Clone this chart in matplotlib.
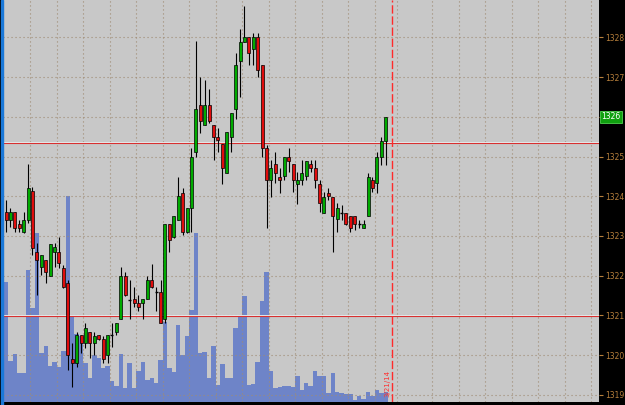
import matplotlib
matplotlib.use("Agg")
import matplotlib.pyplot as plt
import numpy as np
from matplotlib.patches import Rectangle
from matplotlib.transforms import blended_transform_factory

# ---------------- data ----------------
opens = [1323.61, 1323.40, 1323.61, 1323.29, 1323.11, 1323.40, 1324.12, 1322.60, 1322.21, 1322.40,
         1321.99, 1322.60, 1322.60, 1322.20, 1321.81, 1319.90, 1319.80, 1320.51, 1320.30, 1320.59,
         1320.30, 1320.51, 1320.40, 1320.01, 1320.51, 1320.59, 1320.90, 1321.99, 1321.39, 1321.41,
         1321.31, 1321.31, 1321.41, 1321.89, 1321.58, 1321.58, 1320.90, 1323.29, 1322.98, 1323.40,
         1324.09, 1323.11, 1323.70, 1325.11, 1326.30, 1325.79, 1326.30, 1325.79, 1325.50, 1325.31,
         1324.59, 1325.50, 1326.20, 1327.40, 1327.89, 1328.00, 1327.70, 1328.00, 1327.30, 1325.21,
         1324.41, 1324.80, 1324.49, 1324.51, 1324.99, 1324.81, 1324.31, 1324.41, 1324.51, 1324.80,
         1324.70, 1324.31, 1323.59, 1324.09, 1323.99, 1323.42, 1323.59, 1323.59, 1323.49, 1323.49,
         1323.30, 1323.19, 1323.50, 1324.41, 1324.33, 1324.99, 1325.40]
highs = [1323.91, 1323.70, 1323.61, 1323.40, 1323.61, 1324.81, 1324.24, 1322.82, 1322.52, 1322.40,
         1322.80, 1322.82, 1322.98, 1322.27, 1321.89, 1320.30, 1320.59, 1320.51, 1320.80, 1320.59,
         1320.59, 1320.51, 1320.48, 1320.51, 1320.82, 1320.82, 1322.23, 1322.10, 1321.89, 1321.72,
         1321.52, 1321.41, 1321.99, 1322.30, 1321.72, 1321.89, 1323.29, 1323.29, 1323.49, 1324.49,
         1324.20, 1323.70, 1325.21, 1327.91, 1327.01, 1326.92, 1326.69, 1325.79, 1325.71, 1325.31,
         1325.61, 1326.10, 1327.60, 1328.20, 1328.79, 1328.00, 1328.10, 1328.10, 1327.30, 1325.29,
         1324.91, 1325.11, 1324.70, 1324.99, 1325.21, 1324.81, 1324.62, 1324.91, 1324.89, 1324.91,
         1324.91, 1324.41, 1324.11, 1324.20, 1323.99, 1323.82, 1323.78, 1323.59, 1323.49, 1323.49,
         1323.40, 1323.40, 1324.59, 1324.49, 1325.12, 1325.50, 1326.00]
lows = [1323.11, 1323.23, 1323.11, 1323.11, 1323.07, 1323.32, 1322.52, 1321.52, 1322.02, 1321.81,
        1321.98, 1322.23, 1322.19, 1321.68, 1319.63, 1319.21, 1319.71, 1320.05, 1320.18, 1319.92,
        1320.01, 1320.38, 1319.81, 1319.80, 1320.21, 1320.51, 1320.90, 1321.49, 1320.90, 1321.22,
        1321.10, 1320.90, 1321.41, 1321.68, 1321.10, 1320.80, 1320.82, 1322.60, 1322.95, 1323.40,
        1323.02, 1323.07, 1323.11, 1324.99, 1325.58, 1325.79, 1325.84, 1324.91, 1325.12, 1324.30,
        1324.59, 1325.11, 1325.94, 1326.50, 1327.89, 1327.30, 1327.30, 1327.01, 1324.99, 1323.19,
        1323.99, 1324.33, 1324.09, 1324.41, 1324.62, 1324.11, 1323.81, 1324.28, 1324.41, 1324.62,
        1324.20, 1323.61, 1323.59, 1323.91, 1322.60, 1323.11, 1323.40, 1323.28, 1323.11, 1323.15,
        1323.19, 1323.19, 1323.50, 1324.11, 1324.09, 1324.79, 1324.79]
closes = [1323.40, 1323.61, 1323.19, 1323.19, 1323.40, 1324.20, 1322.69, 1322.40, 1322.52, 1322.10,
          1322.80, 1322.72, 1322.31, 1321.72, 1320.01, 1319.80, 1320.51, 1320.30, 1320.68, 1320.30,
          1320.48, 1320.40, 1319.90, 1320.51, 1320.51, 1320.82, 1321.99, 1321.52, 1321.39, 1321.31,
          1321.21, 1321.41, 1321.89, 1321.72, 1321.58, 1320.82, 1323.29, 1322.90, 1323.49, 1324.01,
          1323.11, 1323.70, 1324.99, 1326.20, 1325.90, 1326.30, 1325.90, 1325.50, 1325.42, 1324.70,
          1325.61, 1326.10, 1327.30, 1327.89, 1328.00, 1327.60, 1328.00, 1327.19, 1325.21, 1324.41,
          1324.70, 1324.59, 1324.41, 1324.99, 1324.89, 1324.41, 1324.41, 1324.59, 1324.89, 1324.70,
          1324.41, 1323.82, 1323.99, 1324.01, 1323.50, 1323.70, 1323.59, 1323.30, 1323.19, 1323.30,
          1323.30, 1323.30, 1324.49, 1324.20, 1324.99, 1325.40, 1326.00]
volumes = [120, 41, 48, 29, 29, 132, 94, 169, 49, 56,
           36, 40, 35, 51, 206, 85, 68, 66, 39, 24,
           47, 44, 34, 36, 21, 16, 48, 14, 39, 14,
           31, 40, 22, 24, 19, 42, 80, 34, 30, 77,
           47, 66, 92, 169, 49, 50, 24, 56, 17, 38,
           24, 24, 74, 87, 106, 17, 18, 40, 101, 130,
           31, 14, 15, 16, 16, 15, 26, 12, 19, 16,
           31, 26, 26, 9, 29, 10, 9, 8, 8, 2,
           6, 3, 10, 6, 12, 9, 10]
price_levels = [1319, 1320, 1321, 1322, 1323, 1324, 1325, 1326, 1327, 1328]
price_labels = ["1319", "1320", "1321", "1322", "1323", "1324", "1325", "1326", "1327", "1328"]
hlines_levels = [1325.33, 1320.98]
current_price = 1326.0
current_label = "1326"
date_label = "3/21/14"
session_break = 87.5

# ---------------- figure ----------------
W, H = 625, 405
fig = plt.figure(figsize=(W / 100, H / 100), dpi=100, facecolor="black")
rect = [3 / W, 3 / H, 596 / W, 402 / H]

ax_v = fig.add_axes(rect)
ax_v.set_facecolor("#c8c8c8")
x = np.arange(len(opens))
ax_v.bar(x, volumes, width=1.0, color="#6e84c8", linewidth=0)
ax_v.set_ylim(0, 402)
ax_v.set_xlim(-0.68, 134.3)
ax_v.set_yticks([])
for s in ax_v.spines.values():
    s.set_visible(False)

ax = fig.add_axes(rect, sharex=ax_v)
ax.patch.set_visible(False)
ax.set_ylim(1318.82, 1328.94)
for s in ax.spines.values():
    s.set_visible(False)

grid_x = [5.5, 11.5, 17.5, 23.5, 29.5, 35.5, 41.5, 47.5, 53.5, 59.5, 65.5, 71.5, 77.5, 83.5,
          88.6, 96.5, 102.5, 108.5, 114.5, 120.5, 126.5, 132.5]
ax.set_xticks(grid_x)
ax.set_yticks(price_levels)
# the current-price tag replaces the plain label at its level
ax.set_yticklabels(["" if lab == current_label else lab for lab in price_labels])
ax.grid(True, color="#a08c74", linestyle=(0, (1, 2.6)), linewidth=0.8)
ax.tick_params(axis="x", length=0, labelbottom=False)
ax_v.tick_params(axis="x", length=0, labelbottom=False)
ax.tick_params(axis="y", left=False, labelleft=False, right=True, labelright=True,
               length=3, width=0.8, color="#b8803c", labelcolor="#b8803c",
               labelsize=5.5, pad=1.5)

# red horizontal lines (with light highlight)
for lv in hlines_levels:
    ax.axhline(lv + 0.03, color="#e6f2f2", linewidth=0.7, zorder=3)
    ax.axhline(lv, color="#d83030", linewidth=0.8, zorder=3)

# candles
o = np.array(opens); c = np.array(closes); h = np.array(highs); l = np.array(lows)
ax.vlines(x, l, h, color="black", linewidth=0.8, zorder=4)
up = c > o
dn = c < o
eq = c == o
bw = 0.68
ax.bar(x[up], (c - o)[up], bottom=o[up], width=bw, color="#00aa00",
       edgecolor="black", linewidth=0.5, zorder=5)
ax.bar(x[dn], (o - c)[dn], bottom=c[dn], width=bw, color="#e00c0c",
       edgecolor="black", linewidth=0.5, zorder=5)
ax.hlines(c[eq], x[eq] - bw / 2, x[eq] + bw / 2, color="black", linewidth=1.0, zorder=5)

# session separator
ax.axvline(session_break, color="#ff2a2a", linewidth=1.0, linestyle=(0, (6, 2)), zorder=6)
ax.text(86.3, 1318.95, date_label, rotation=90, ha="center", va="bottom",
        fontsize=5, color="#ff3030", zorder=7)

# current price label
tr = blended_transform_factory(ax.transAxes, ax.transData)
ax.text(1.004, current_price, current_label, transform=tr, ha="left", va="center",
        fontsize=5.5, color="white", clip_on=False, zorder=10,
        bbox=dict(boxstyle="square,pad=0.18", fc="#10a010", ec="#50d050", lw=0.6))

# left blue border strip
fig.patches.append(Rectangle((0.8 / W, 0), 2.2 / W, 1, transform=fig.transFigure,
                             color="#1a78d8", zorder=20))

fig.savefig("out.png", dpi=100, facecolor="black")
